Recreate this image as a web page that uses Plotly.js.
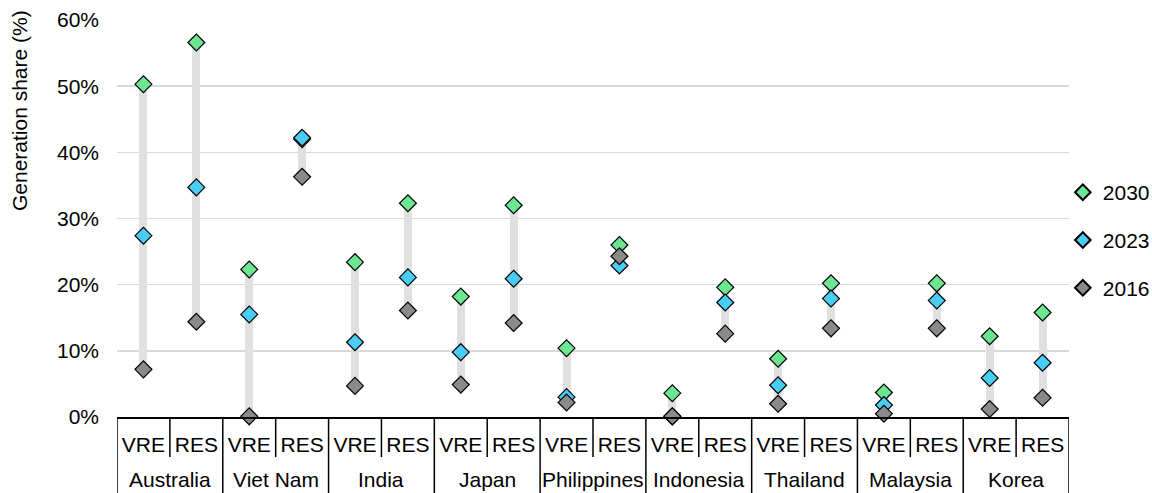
<!DOCTYPE html>
<html>
<head>
<meta charset="utf-8">
<script src="https://cdn.plot.ly/plotly-3.0.1.min.js"></script>
<style>html,body{margin:0;padding:0;background:#fff;}#chart{width:1152px;height:493px;}</style>
</head>
<body>
<div id="chart"></div>
<script>
const countries = ['Australia','Viet Nam','India','Japan','Philippines','Indonesia','Thailand','Malaysia','Korea'];
const metrics = ['VRE','RES'];
const years = ['2030','2023','2016'];
// values per (country, metric) in order: Australia VRE, Australia RES, Viet Nam VRE, ...
const share2030 = [50.3, 56.6, 22.3, 42.0, 23.4, 32.3, 18.2, 32.0, 10.4, 26.0, 3.6, 19.6, 8.8, 20.2, 3.7, 20.2, 12.2, 15.8];
const share2023 = [27.4, 34.7, 15.5, 42.2, 11.3, 21.1, 9.8, 20.9, 3.0, 22.9, 0.1, 17.3, 4.8, 17.9, 1.8, 17.6, 5.9, 8.2];
const share2016 = [7.2, 14.4, 0.1, 36.3, 4.7, 16.1, 4.9, 14.2, 2.2, 24.3, 0.1, 12.6, 2.0, 13.4, 0.5, 13.4, 1.2, 2.9];

const colors = {'2030':'#6CE693','2023':'#4ACDF5','2016':'#8A8A8A'};
const FONT = 'Liberation Sans, Arial, sans-serif';
const FS = 21;

const idx = [];
const tickText = [];
countries.forEach((c, i) => metrics.forEach((m, j) => { idx.push(i * metrics.length + j); tickText.push(m); }));

const series = {'2030': share2030, '2023': share2023, '2016': share2016};
const lo = idx.map(k => Math.min(share2030[k], share2023[k], share2016[k]));
const hi = idx.map(k => Math.max(share2030[k], share2023[k], share2016[k]));

const traces = [{
  type: 'bar', x: idx, base: lo, y: hi.map((h, k) => h - lo[k]), width: 0.15,
  marker: {color: '#E0E0E0'}, showlegend: false, hoverinfo: 'skip'
}];
years.forEach(yr => {
  traces.push({
    type: 'scatter', mode: 'markers', name: yr, x: idx, y: series[yr],
    legendgroup: yr, cliponaxis: false,
    marker: {symbol: 'diamond', size: 13, color: colors[yr], line: {color: '#000', width: 1.2}}
  });
});

const shapes = [];
const nCat = idx.length;
for (let k = 0; k <= nCat; k++) {
  const isOuter = (k % metrics.length === 0);
  shapes.push({type: 'line', xref: 'x', yref: 'paper', x0: k - 0.5, x1: k - 0.5, y0: 0,
    y1: isOuter ? -0.25 : -0.101, line: {color: '#000', width: 1.5}});
}
const annotations = countries.map((c, i) => ({
  text: c, xref: 'x', yref: 'paper', x: i * metrics.length + (metrics.length - 1) / 2, y: -0.158,
  yanchor: 'middle', xanchor: 'center', showarrow: false, font: {family: FONT, size: FS, color: '#000'}
}));
annotations.push({
  text: 'Generation share (%)', xref: 'paper', yref: 'paper', x: -0.103, y: 0.773,
  xanchor: 'center', yanchor: 'middle', textangle: -90, showarrow: false,
  font: {family: FONT, size: FS, color: '#000'}
});

const layout = {
  width: 1152, height: 493,
  margin: {l: 117, r: 83, t: 20, b: 76, autoexpand: false},
  paper_bgcolor: '#fff', plot_bgcolor: '#fff',
  font: {family: FONT, size: FS, color: '#000'},
  showlegend: true,
  legend: {x: 0.9935, xanchor: 'left', y: 0.617, yanchor: 'top', tracegroupgap: 17.5,
    itemsizing: 'constant', font: {family: FONT, size: FS, color: '#000'}, bgcolor: 'rgba(0,0,0,0)'},
  xaxis: {
    type: 'linear', range: [-0.5, nCat - 0.5], tickvals: idx, ticktext: tickText, automargin: false,
    showgrid: false, zeroline: false, showline: true, linecolor: '#000', linewidth: 1.5,
    ticks: '', ticklabelstandoff: 8, tickfont: {family: FONT, size: FS, color: '#000'}, fixedrange: true
  },
  yaxis: {
    range: [0, 60], dtick: 10, tick0: 0, ticksuffix: '%', showgrid: true, gridcolor: '#D9D9D9', gridwidth: 1.5,
    zeroline: false, showline: false, ticks: '', ticklabelstandoff: 17, automargin: false,
    tickfont: {family: FONT, size: FS, color: '#000'}, fixedrange: true
  },
  shapes: shapes,
  annotations: annotations,
  bargap: 0
};
Plotly.newPlot('chart', traces, layout, {displayModeBar: false, staticPlot: true});
</script>
</body>
</html>
